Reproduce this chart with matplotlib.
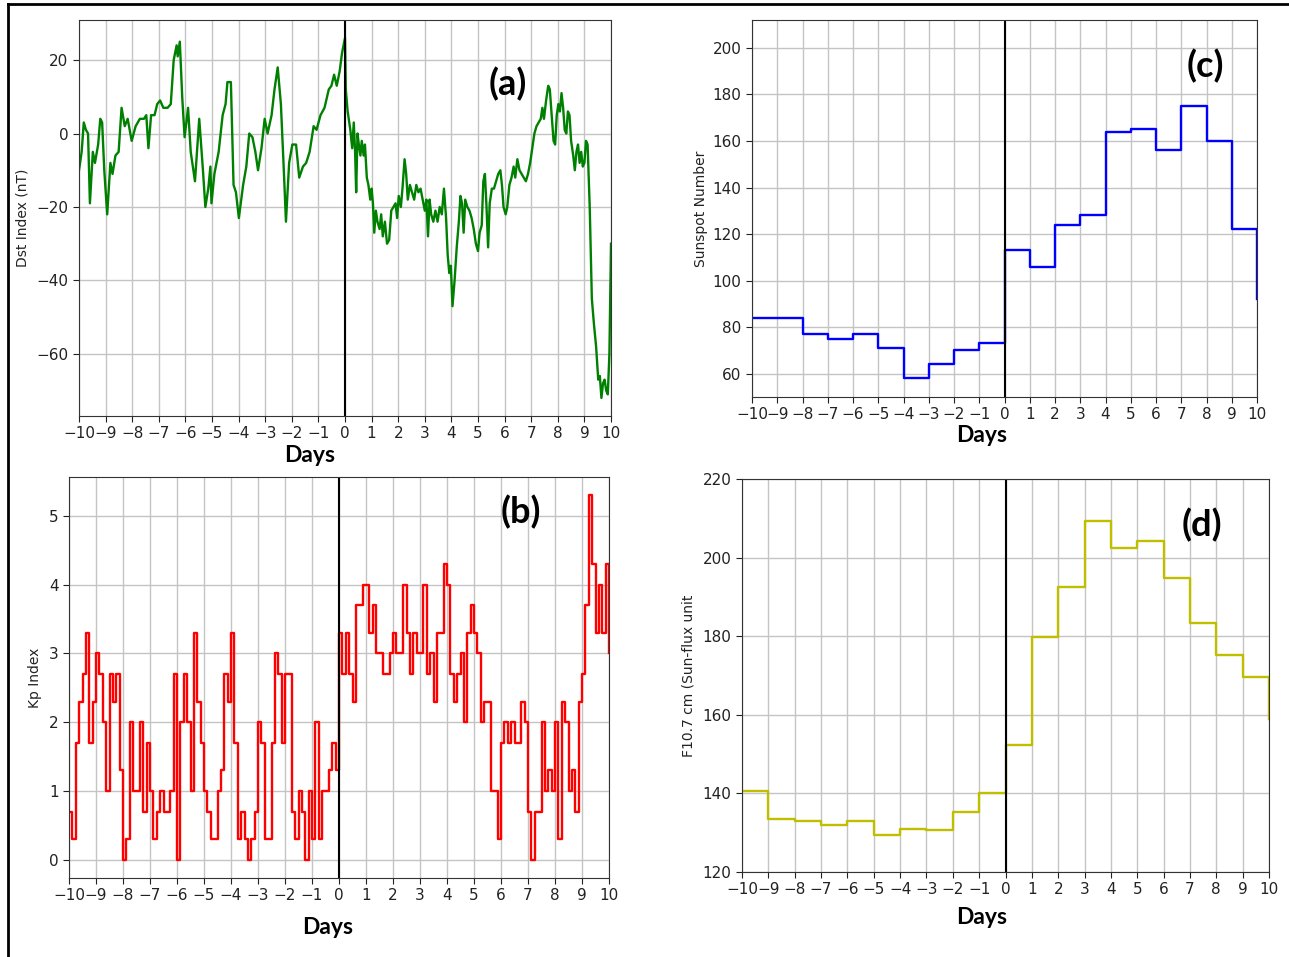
import matplotlib
matplotlib.use("Agg")
import matplotlib.pyplot as plt
import numpy as np

# ---- data ----
# (a) Dst index (nT) vs days
dst_days = [-10.0, -9.9, -9.82, -9.74, -9.66, -9.59, -9.48, -9.4, -9.28, -9.2, -9.13, -9.05,
            -8.94, -8.82, -8.74, -8.63, -8.51, -8.4, -8.28, -8.17, -8.02, -7.87, -7.71, -7.56,
            -7.47, -7.39, -7.29, -7.16, -7.06, -6.95, -6.83, -6.67, -6.55, -6.44, -6.33, -6.29,
            -6.21, -6.12, -6.03, -5.9, -5.8, -5.64, -5.48, -5.34, -5.25, -5.14, -5.06, -5.02,
            -4.91, -4.75, -4.6, -4.49, -4.42, -4.29, -4.19, -4.1, -3.99, -3.83, -3.71, -3.6,
            -3.48, -3.37, -3.27, -3.14, -3.02, -2.91, -2.76, -2.65, -2.53, -2.41, -2.3, -2.22,
            -2.1, -1.98, -1.84, -1.72, -1.58, -1.46, -1.33, -1.18, -1.07, -0.92, -0.77, -0.61,
            -0.51, -0.41, -0.31, -0.2, -0.11, 0.0,
            0.03, 0.1, 0.2, 0.27, 0.33, 0.38, 0.42, 0.47, 0.52, 0.58, 0.63, 0.7, 0.75, 0.82,
            0.88, 0.95, 1.0, 1.05, 1.1, 1.16, 1.22, 1.3, 1.36, 1.42, 1.5, 1.58, 1.66, 1.74,
            1.82, 1.9, 1.96, 2.02, 2.1, 2.16, 2.24, 2.3, 2.36, 2.44, 2.52, 2.6, 2.68, 2.76,
            2.84, 2.92, 3.0, 3.06, 3.12, 3.18, 3.24, 3.32, 3.4, 3.48, 3.56, 3.64, 3.72, 3.8,
            3.86, 3.92, 3.98, 4.04, 4.12, 4.2, 4.28, 4.34, 4.4, 4.46, 4.52, 4.6, 4.68, 4.76,
            4.84, 4.92, 5.0, 5.06, 5.14, 5.2, 5.26, 5.32, 5.38, 5.44, 5.52, 5.6, 5.68, 5.76,
            5.84, 5.9, 5.96, 6.04, 6.1, 6.18, 6.26, 6.34, 6.4, 6.48, 6.56, 6.64, 6.72, 6.8,
            6.88, 6.96, 7.04, 7.12, 7.2, 7.28, 7.36, 7.42, 7.48, 7.56, 7.64, 7.7, 7.78, 7.84,
            7.9, 7.96, 8.02, 8.08, 8.14, 8.2, 8.26, 8.32, 8.38, 8.44, 8.5, 8.58, 8.64, 8.7,
            8.76, 8.82, 8.88, 8.94, 9.0, 9.06, 9.12, 9.2, 9.28, 9.36, 9.44, 9.52, 9.58, 9.64,
            9.7, 9.76, 9.82, 9.88, 9.94, 10.0]
dst_vals = [-10, -5, 3, 1, 0, -19, -5, -8, -3, 4, 3, -10,
            -22, -8, -11, -6, -5, 7, 2, 4, -2, 2, 4, 4,
            5, -4, 5, 5, 8, 9, 7, 7, 8, 20, 24, 21,
            25, 10, -1, 7, -5, -13, 4, -10, -20, -15, -9, -19,
            -11, -5, 5, 8, 14, 14, -14, -16, -23, -14, -9, 0,
            -1, -5, -10, -4, 4, 0, 5, 12, 18, 8, -10, -24,
            -8, -3, -3, -12, -9, -8, -5, 2, 1, 5, 7, 12,
            13, 16, 13, 17, 22, 26,
            12, 6, 1, -4, 3, -5, -16, 0, -3, -6, -2, -6, -3, -12,
            -14, -18, -15, -19, -27, -21, -24, -26, -22, -28, -24, -30, -29, -21,
            -20, -19, -23, -17, -20, -15, -7, -11, -18, -14, -16, -18, -14, -16,
            -15, -18, -21, -18, -28, -18, -22, -24, -21, -24, -20, -22, -15, -23,
            -33, -38, -36, -47, -40, -31, -24, -17, -19, -27, -18, -20, -21, -23,
            -26, -30, -32, -27, -25, -13, -11, -20, -31, -19, -15, -15, -13, -11,
            -10, -14, -20, -22, -20, -14, -12, -9, -12, -7, -10, -11, -12, -13,
            -11, -8, -4, 0, 2, 3, 4, 7, 4, 9, 13, 12, 4, -2,
            -3, 5, 8, 6, 11, 7, 1, 0, 6, 5, -2, -6, -10, -5,
            -3, -8, -5, -9, -8, -2, -3, -20, -45, -52, -58, -67, -66, -72,
            -68, -67, -70, -71, -60, -30]

# (b) Kp index, 3-hourly values from day -10 (last entry = value at day 10)
kp_vals = [0.7, 0.3, 1.7, 2.3, 2.7, 3.3, 1.7, 2.3, 3.0, 2.7, 2.0, 1.0, 2.7, 2.3, 2.7, 1.3,
           0.0, 0.3, 2.0, 1.0, 1.0, 2.0, 0.7, 1.7, 1.0, 0.3, 0.7, 1.0, 0.7, 0.7, 1.0, 2.7,
           0.0, 2.0, 2.7, 2.0, 1.0, 3.3, 2.3, 1.7, 1.0, 0.7, 0.3, 0.3, 1.0, 1.3, 2.7, 2.3,
           3.3, 1.7, 0.3, 0.7, 0.3, 0.0, 0.3, 0.7, 2.0, 1.7, 0.3, 0.3, 1.7, 3.0, 2.7, 1.7,
           2.7, 2.7, 0.7, 0.3, 1.0, 0.7, 0.0, 1.0, 0.3, 2.0, 0.3, 1.0, 1.0, 1.3, 1.7, 1.3,
           3.3, 2.7, 3.3, 2.7, 2.3, 3.7, 3.7, 4.0, 4.0, 3.3, 3.7, 3.0, 3.0, 2.7, 2.7, 3.0,
           3.3, 3.0, 3.0, 4.0, 3.3, 2.7, 3.3, 3.0, 3.0, 4.0, 2.7, 3.0, 2.3, 3.3, 3.3, 4.3,
           4.0, 2.7, 2.3, 2.7, 3.0, 2.0, 3.3, 3.7, 3.3, 3.0, 2.0, 2.3, 2.3, 1.0, 1.0, 0.3,
           1.7, 2.0, 1.7, 2.0, 1.7, 1.7, 2.3, 2.0, 0.7, 0.0, 0.7, 0.7, 2.0, 1.0, 1.3, 1.0,
           2.0, 0.3, 2.3, 2.0, 1.0, 1.3, 0.7, 2.3, 2.7, 3.7, 5.3, 4.3, 3.3, 4.0, 3.3, 4.3,
           3.0]
kp_days = np.linspace(-10, 10, len(kp_vals))

# (c) daily sunspot number, (d) daily F10.7 flux
daily_days = list(range(-10, 11))
ssn_vals = [84, 84, 77, 75, 77, 71, 58, 64, 70, 73,
            113, 106, 124, 128, 164, 165, 156, 175, 160, 122, 92]
f107_vals = [140.5, 133.5, 133.0, 132.0, 133.0, 129.5, 131.0, 130.7, 135.2, 140.0,
             152.4, 179.7, 192.4, 209.3, 202.5, 204.3, 194.7, 183.3, 175.3, 169.5, 159.0]

xticks = list(range(-10, 11))

W, H = 1289, 957
fig = plt.figure(figsize=(W / 100, H / 100), dpi=100)


def px_axes(l, t, r, b):
    return fig.add_axes([l / W, 1 - b / H, (r - l) / W, (b - t) / H])


def style(ax, ylabel):
    ax.set_xlim(-10, 10)
    ax.set_xticks(xticks)
    ax.grid(True, color='#c4c4c4', lw=1.0)
    ax.set_axisbelow(True)
    ax.axvline(0, color='black', lw=1.5)
    ax.tick_params(labelsize=11, colors='#222222', length=4)
    for s in ax.spines.values():
        s.set_color('#333333')
    ax.set_ylabel(ylabel, fontsize=10, color='#222222')


# (a)
ax1 = px_axes(79, 20, 611, 416)
ax1.plot(dst_days, dst_vals, color='green', lw=1.7)
style(ax1, 'Dst Index (nT)')
ax1.set_yticks([20, 0, -20, -40, -60])
ax1.yaxis.set_label_coords(-0.093, 0.5)

# (c)
ax2 = px_axes(752, 20, 1257, 397)
ax2.step(daily_days, ssn_vals, where='post', color='blue', lw=1.7)
style(ax2, 'Sunspot Number')
ax2.set_ylim(50, 212)
ax2.set_yticks(range(60, 201, 20))
ax2.yaxis.set_label_coords(-0.088, 0.5)

# (b)
ax3 = px_axes(69, 477, 609, 878)
ax3.step(kp_days, kp_vals, where='post', color='red', lw=1.7)
style(ax3, 'Kp Index')
ax3.set_yticks([0, 1, 2, 3, 4, 5])
ax3.yaxis.set_label_coords(-0.05, 0.5)

# (d)
ax4 = px_axes(742, 479, 1269, 872)
ax4.step(daily_days, f107_vals, where='post', color='y', lw=1.7)
style(ax4, 'F10.7 cm (Sun-flux unit')
ax4.set_ylim(120, 220)
ax4.set_yticks(range(120, 221, 20))
ax4.yaxis.set_label_coords(-0.088, 0.5)

# panel letters and "Days" captions
bold = dict(fontweight='bold', family=['Lato', 'DejaVu Sans'], ha='center', va='center')
for txt, x, y in [('(a)', 508, 84), ('(c)', 1205, 66), ('(b)', 521, 512), ('(d)', 1202, 525)]:
    fig.text(x / W, 1 - y / H, txt, fontsize=26, **bold)
for x, y in [(310, 455), (982, 435), (328, 928), (982, 918)]:
    fig.text(x / W, 1 - y / H, 'Days', fontsize=16.5, **bold)

# outer frame (left and top edges visible in the reference)
fig.add_artist(plt.Line2D([8 / W, 8 / W], [0, 1 - 4 / H], color='black', lw=2, transform=fig.transFigure))
fig.add_artist(plt.Line2D([8 / W, 1], [1 - 4 / H, 1 - 4 / H], color='black', lw=2, transform=fig.transFigure))

fig.savefig('out.png', dpi=100)
